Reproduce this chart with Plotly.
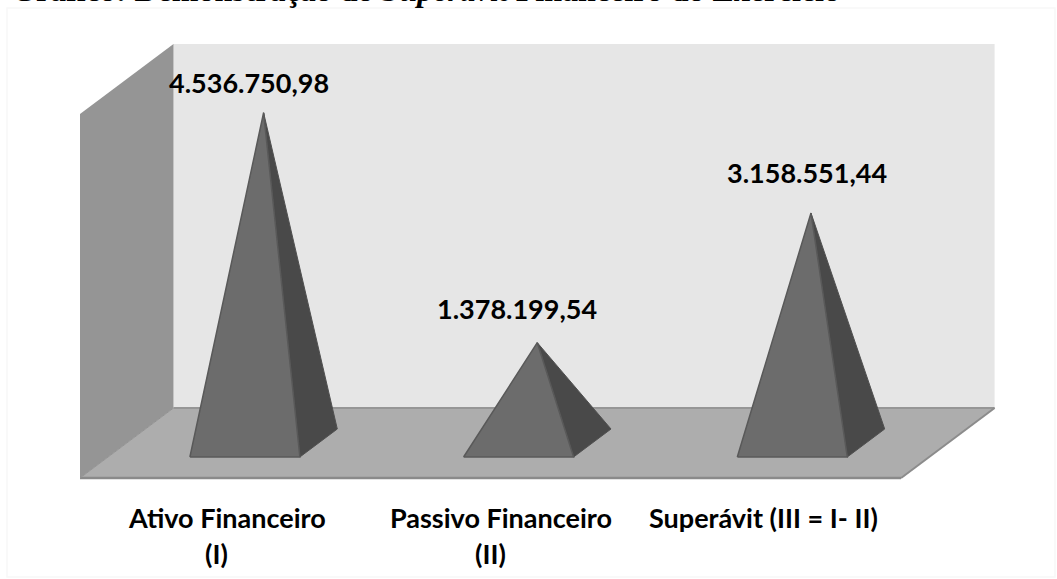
import plotly.graph_objects as go

# ---- data ----
categories = ["Ativo Financeiro", "Passivo Financeiro", "Superávit (III = I- II)"]
second_lines = ["(I)", "(II)", ""]
values = [4536750.98, 1378199.54, 3158551.44]
value_labels = ["4.536.750,98", "1.378.199,54", "3.158.551,44"]
title_text = "Gráfico: Demonstração do <i>Superávit</i> Financeiro do Exercício"
axis_max = 5000000

# ---- layout of the pseudo-3D scene ----
W, H = 1057, 579
PLOT_L, FLOOR_Y, CAT_PX = 80.0, 478.0, 273.7      # pixels of the front-left origin and one category
PX_PER_VAL = 364.0 / axis_max
DEPTH_X = 93.5 / CAT_PX                           # full depth in category units
DEPTH_Y = 70.0 / PX_PER_VAL                       # full depth in value units
HALF_W = 55.0 / CAT_PX                            # pyramid half width
D_FRONT, D_BACK = 0.30, 0.70                      # pyramid base in depth fractions
D_MID = 0.5 * (D_FRONT + D_BACK)
LABEL_FONT = dict(family="Lato", size=27, color="#000000")


def proj(u, z, d):
    """category position, value, depth fraction -> axis coordinates"""
    return u + DEPTH_X * d, z + DEPTH_Y * d


def poly(points, fill, line=None, width=0):
    xs, ys = zip(*[proj(*p) for p in points + points[:1]])
    return go.Scatter(x=xs, y=ys, mode="lines", fill="toself", fillcolor=fill,
                      line=dict(color=line or fill, width=width if line else 0),
                      hoverinfo="skip", showlegend=False)


n = len(categories)
fig = go.Figure()
# back wall, left wall, floor
fig.add_trace(poly([(0, 0, 1), (n, 0, 1), (n, axis_max, 1), (0, axis_max, 1)], "#e6e6e6"))
fig.add_trace(poly([(0, 0, 0), (0, 0, 1), (0, axis_max, 1), (0, axis_max, 0)], "#959595"))
fig.add_trace(poly([(0, 0, 0), (n, 0, 0), (n, 0, 1), (0, 0, 1)], "#adadad"))
# floor edges
for a, b, col, w in [((0, 0, 1), (n, 0, 1), "#969696", 2),
                     ((n, 0, 1), (n, 0, 0), "#8c8c8c", 2),
                     ((0, 0, 0), (n, 0, 0), "#8a8a8a", 2.5),
                     ((0, 0, 0), (0, 0, 1), "#939393", 1)]:
    xs, ys = zip(proj(*a), proj(*b))
    fig.add_trace(go.Scatter(x=xs, y=ys, mode="lines", line=dict(color=col, width=w),
                             hoverinfo="skip", showlegend=False))

# pyramids
annotations = []
label_shift = [(-15, 30), (-20, 34), (-4, 41)]
for i, v in enumerate(values):
    c = i + 0.5
    apex = (c, v, D_MID)
    fl = (c - HALF_W, 0, D_FRONT)
    fr = (c + HALF_W, 0, D_FRONT)
    br = (c + HALF_W, 0, D_BACK)
    fig.add_trace(poly([fr, br, apex], "#494949", "#505050", 1))
    fig.add_trace(poly([fl, fr, apex], "#6c6c6c", "#595959", 1.5))
    ax, ay = proj(*apex)
    annotations.append(dict(x=ax, y=ay, xref="x", yref="y", text=f"<b>{value_labels[i]}</b>",
                            showarrow=False, xshift=label_shift[i][0], yshift=label_shift[i][1],
                            font=LABEL_FONT, xanchor="center", yanchor="middle"))

# category labels
line1_shift = [10, 10, -1]
LABEL1_Y = -(517 - FLOOR_Y) / PX_PER_VAL
LABEL2_Y = -(553 - FLOOR_Y) / PX_PER_VAL
for i, cat in enumerate(categories):
    annotations.append(dict(x=i + 0.5, y=LABEL1_Y, xref="x", yref="y", text=f"<b>{cat}</b>",
                            showarrow=False, xshift=line1_shift[i], font=LABEL_FONT,
                            xanchor="center", yanchor="middle"))
    if second_lines[i]:
        annotations.append(dict(x=i + 0.5, y=LABEL2_Y, xref="x", yref="y",
                                text=f"<b>{second_lines[i]}</b>", showarrow=False, font=LABEL_FONT,
                                xanchor="center", yanchor="middle"))

# clipped caption above the chart
annotations.append(dict(x=425 / W, y=1, xref="paper", yref="paper", text=f"<b>{title_text}</b>",
                        showarrow=False, yshift=10, xanchor="center", yanchor="middle",
                        font=dict(family="Liberation Serif", size=32, color="#000000")))

# faint chart-area frame
shapes = [dict(type="rect", xref="paper", yref="paper", x0=7 / W, x1=1055 / W,
               y0=1 - 577 / H, y1=1 - 8 / H, line=dict(color="#f8f8f8", width=1.5), layer="below")]

fig.update_layout(
    width=W, height=H, margin=dict(l=0, r=0, t=0, b=0),
    paper_bgcolor="#ffffff", plot_bgcolor="#ffffff", showlegend=False,
    xaxis=dict(range=[-PLOT_L / CAT_PX, (W - PLOT_L) / CAT_PX], visible=False, fixedrange=True),
    yaxis=dict(range=[-(H - FLOOR_Y) / PX_PER_VAL, FLOOR_Y / PX_PER_VAL], visible=False, fixedrange=True),
    annotations=annotations, shapes=shapes,
)
fig.write_html("out.html", post_script="document.body.style.margin='0';document.body.style.overflow='hidden';",
               config=dict(displayModeBar=False))
